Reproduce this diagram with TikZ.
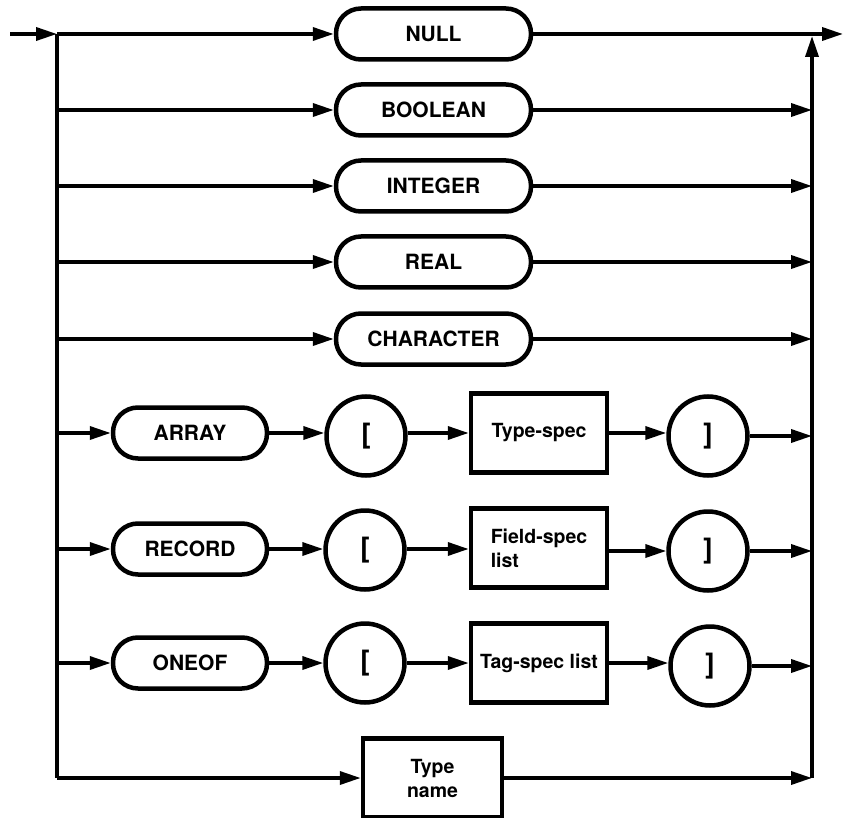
\documentclass[tikz,border=0pt]{standalone}
\usepackage{fontspec}
\setmainfont{TeX Gyre Heros}
\usetikzlibrary{arrows.meta}
\begin{document}
\begin{tikzpicture}[x=1pt,y=-1pt,
  conn/.style={line width=3.5pt,-{Triangle[length=21pt,width=13pt]}},
  plain/.style={line width=3.5pt},
  term/.style={draw,line width=4.5pt,rectangle,rounded corners=25pt,minimum height=51pt,inner sep=0pt,font=\fontsize{21}{24}\selectfont\bfseries},
  wide/.style={term,minimum width=195pt},
  narrow/.style={term,minimum width=154pt},
  brk/.style={draw,line width=4.5pt,circle,minimum size=79pt,inner sep=0pt,font=\fontsize{28}{30}\selectfont\bfseries},
  nonterm/.style={draw,line width=4.5pt,rectangle,minimum width=136pt,minimum height=79pt,inner sep=0pt,font=\fontsize{19.5}{24}\selectfont\bfseries}
]
\useasboundingbox (0,0) rectangle (843,818);
% terminal boxes
\node[wide] (null) at (433.5,34) {NULL};
\node[wide] (bool) at (433.5,110) {BOOLEAN};
\node[wide] (int) at (433.5,186) {INTEGER};
\node[wide] (real) at (433.5,262) {REAL};
\node[wide] (char) at (433.5,339) {CHARACTER};
% array row
\node[narrow] (array) at (190,433) {ARRAY};
\node[brk] (alb) at (366,436) {[};
\node[nonterm] (tspec) at (539,433) {Type-spec};
\node[brk] (arb) at (708,436) {]};
% record row
\node[narrow] (record) at (190,549) {RECORD};
\node[brk] (rlb) at (365,550) {[};
\node[nonterm,align=left] (fspec) at (539,548) {Field-spec\\list};
\node[brk] (rrb) at (708,551) {]};
% oneof row
\node[narrow] (oneof) at (190,663) {ONEOF};
\node[brk] (olb) at (365,663) {[};
\node[nonterm] (tgspec) at (539,663) {Tag-spec list};
\node[brk] (orb) at (710,666) {]};
% type name
\node[nonterm,minimum width=139pt,align=center] (tname) at (432.5,778) {Type\\name};
% coordinates
\coordinate (start) at (10,34);
\coordinate (L0) at (57,34);
\coordinate (L1) at (57,110);
\coordinate (L2) at (57,186);
\coordinate (L3) at (57,262);
\coordinate (L4) at (57,339);
\coordinate (L5) at (57,433);
\coordinate (L6) at (57,549);
\coordinate (L7) at (57,663);
\coordinate (L8) at (57,778);
\coordinate (R0) at (812,36);
\coordinate (R1) at (812,110);
\coordinate (R2) at (812,186);
\coordinate (R3) at (812,262);
\coordinate (R4) at (812,339);
\coordinate (R5) at (812,436);
\coordinate (R6) at (812,551);
\coordinate (R7) at (812,666);
\coordinate (R8) at (812,778);
\coordinate (exit) at (843,34);
% left rail
\draw[conn] (start) -- (L0);
\draw[plain] (L0) -- (L8);
\draw[conn] (L0) -- (null.west);
\draw[conn] (L1) -- (bool.west);
\draw[conn] (L2) -- (int.west);
\draw[conn] (L3) -- (real.west);
\draw[conn] (L4) -- (char.west);
\draw[conn] (L5) -- (array.west);
\draw[conn] (L6) -- (record.west);
\draw[conn] (L7) -- (oneof.west);
\draw[conn] (L8) -- (tname.west);
% inner connectors
\draw[conn] (array.east) -- (alb.west |- array.east);
\draw[conn] (alb.east |- array.east) -- (tspec.west);
\draw[conn] (tspec.east) -- (arb.west |- tspec.east);
\draw[conn] (record.east) -- (rlb.west |- record.east);
\draw[conn] (rlb.east |- record.east) -- (fspec.west |- record.east);
\draw[conn] (fspec.east |- rrb.west) -- (rrb.west);
\draw[conn] (oneof.east) -- (olb.west);
\draw[conn] (olb.east) -- (tgspec.west);
\draw[conn] (tgspec.east) -- (orb.west |- tgspec.east);
% right rail
\draw[conn] (null.east) -- (exit);
\draw[conn] (bool.east) -- (R1);
\draw[conn] (int.east) -- (R2);
\draw[conn] (real.east) -- (R3);
\draw[conn] (char.east) -- (R4);
\draw[conn] (arb.east) -- (R5);
\draw[conn] (rrb.east) -- (R6);
\draw[conn] (orb.east) -- (R7);
\draw[conn] (tname.east) -- (R8);
\draw[conn] (R8) -- (R0);
\end{tikzpicture}
\end{document}
